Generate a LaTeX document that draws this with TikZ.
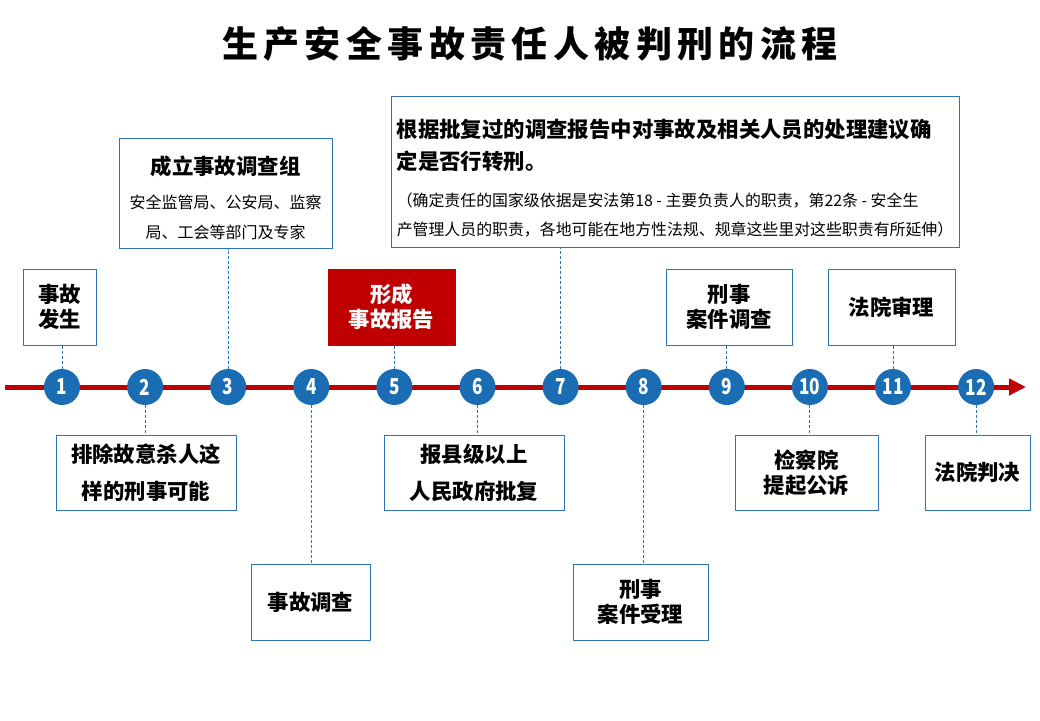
\documentclass[tikz,border=0pt]{standalone}
\usepackage{fontspec}
\setmainfont{Noto Sans CJK SC}
\newfontfamily\numfont[FakeStretch=0.78]{Noto Sans CJK SC}
\usetikzlibrary{arrows.meta}
\usetikzlibrary{positioning}
\definecolor{fg}{rgb}{0,0,0}
\definecolor{boxblue}{HTML}{2E75B6}
\definecolor{dotblue}{HTML}{1B6DB3}
\definecolor{darkred}{HTML}{C00000}
\newcommand{\smallfont}{\fontsize{16}{16}\selectfont\mdseries}
\newcommand{\notefont}{\fontsize{15.9}{15.9}\selectfont\mdseries}
\tikzstyle{box}=[draw=boxblue, line width=1pt, inner sep=0pt, align=center,
text=fg, font=\fontsize{21.4}{25}\selectfont\bfseries]
\tikzstyle{redbox}=[box, draw=darkred, fill=darkred, text=white]
\tikzstyle{dot}=[circle, fill=dotblue, minimum size=36pt, inner sep=0pt,
text=white, font=\numfont\fontsize{22}{22}\selectfont\bfseries]
\tikzstyle{link}=[draw=boxblue, line width=0.9pt, dash pattern=on 3pt off 2pt]
\tikzstyle{timeline}=[draw=darkred, line width=5pt, -{Triangle[length=17pt,width=16pt]}]

\begin{document}
\begin{tikzpicture}[x=1pt, y=-1pt]
    \useasboundingbox (0,0) rectangle (1040,720);

    \node[font=\fontsize{36}{36}\selectfont\bfseries\addfontfeature{LetterSpace=15}] (title) at (530,44) {生产安全事故责任人被判刑的流程};

    % time axis
    \coordinate (start) at (5,387);
    \coordinate (end) at (1026,387);
    \draw[timeline] (start) -- (end);
    \foreach \i [evaluate=\i as \x using {62+83.1*(\i-1)}] in {1,...,12}
        \node[dot] (c\i) at (\x,387) {\i};

    % boxes above the axis
    \node[box, minimum width=73pt, minimum height=76pt] (b1) at (59.5,307) {事故\\发生};
    \node[box, minimum width=213pt, minimum height=110pt] (b3) at (225.5,193) {\rule{0pt}{28pt}成立事故调查组\\[9pt]{\smallfont 安全监管局、公安局、监察}\\[5pt]{\smallfont 局、工会等部门及专家}};
    \node[redbox, minimum width=127pt, minimum height=76pt] (b5) at (391.5,307) {形成\\事故报告};
    \node[box, align=left, minimum width=568pt, minimum height=151pt] (b7) at (675,171.5) {\rule{0pt}{31pt}根据批复过的调查报告中对事故及相关人员的处理建议确\\[7pt]定是否行转刑。\\[12pt]{\notefont（确定责任的国家级依据是安法第18 - 主要负责人的职责，第22条 - 安全生}\\[4pt]{\notefont 产管理人员的职责，各地可能在地方性法规、规章这些里对这些职责有所延伸）}};
    \node[box, minimum width=126pt, minimum height=76pt] (b9) at (729,307) {刑事\\案件调查};
    \node[box, minimum width=127pt, minimum height=76pt] (b11) at (891.5,307) {法院审理};

    % boxes below the axis
    \node[box, minimum width=180pt, minimum height=75pt] (b2) at (146,472.5) {排除故意杀人这\\[12pt]样的刑事可能};
    \node[box, minimum width=119pt, minimum height=76pt] (b4) at (310.5,602) {事故调查};
    \node[box, minimum width=180pt, minimum height=75pt] (b6) at (474,472.5) {报县级以上\\[12pt]人民政府批复};
    \node[box, minimum width=135pt, minimum height=76pt] (b8) at (640.5,602) {刑事\\案件受理};
    \node[box, minimum width=143pt, minimum height=75pt] (b10) at (806.5,472.5) {检察院\\提起公诉};
    \node[box, minimum width=105pt, minimum height=75pt] (b12) at (977.5,472.5) {法院判决};

    % dashed links
    \foreach \i in {1,3,5,7,9,11}
        \draw[link] (c\i.north) -- (c\i |- b\i.south);
    \foreach \i in {2,4,6,8,10,12}
        \draw[link] (c\i.south) -- (c\i |- b\i.north);
\end{tikzpicture}
\end{document}
